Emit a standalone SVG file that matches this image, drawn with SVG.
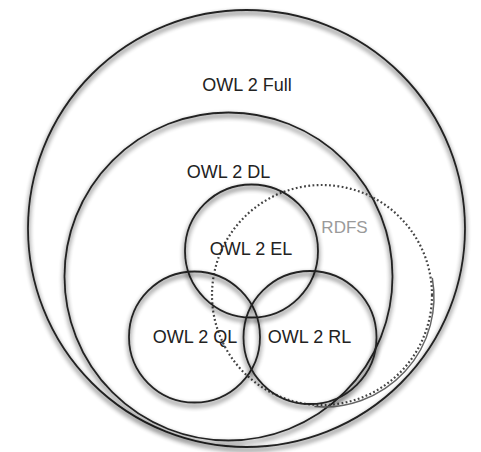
<svg xmlns="http://www.w3.org/2000/svg" width="481" height="452" viewBox="0 0 481 452">
  <defs>
    <filter id="shadow" x="-20%" y="-20%" width="140%" height="140%">
      <feGaussianBlur in="SourceAlpha" stdDeviation="2.4" result="b"/>
      <feOffset in="b" dx="0" dy="3" result="o"/>
      <feComponentTransfer in="o" result="s">
        <feFuncA type="linear" slope="0.85"/>
      </feComponentTransfer>
      <feMerge>
        <feMergeNode in="s"/>
        <feMergeNode in="SourceGraphic"/>
      </feMerge>
    </filter>
    <filter id="soft" x="-20%" y="-20%" width="140%" height="140%">
      <feGaussianBlur stdDeviation="0.7"/>
    </filter>
  </defs>
  <style>
    .set { fill: none; stroke: #222; stroke-width: 1.8; filter: url(#shadow); }
    .rdfs { fill: none; stroke: #444; stroke-width: 2.2; stroke-dasharray: 1.8 2.4; }
    .rdfs-sh { fill: none; stroke: #666; stroke-width: 1.5; filter: url(#soft); }
    .lbl { font-family: "Liberation Sans", Arial, Helvetica, sans-serif; font-size: 18px; fill: #222; text-anchor: middle; }
    .lbl-g { font-family: "Liberation Sans", Arial, Helvetica, sans-serif; font-size: 17px; fill: #9a9a9a; text-anchor: middle; }
  </style>
  <rect width="481" height="452" fill="#ffffff"/>

  <g id="owl2-full">
    <circle class="set" cx="246.5" cy="228.5" r="218.5"/>
    <text class="lbl" x="247" y="91">OWL 2 Full</text>
  </g>

  <g id="owl2-dl">
    <circle class="set" cx="228.5" cy="276.5" r="164"/>
    <text class="lbl" x="228.5" y="178">OWL 2 DL</text>
  </g>

  <g id="rdfs">
    <path class="rdfs-sh" d="M 432.3 277.9 A 110 110 0 0 1 314.4 406.6"/>
    <circle class="rdfs" cx="322" cy="295" r="110"/>
    <text class="lbl-g" x="344.5" y="233">RDFS</text>
  </g>

  <g id="owl2-el">
    <circle class="set" cx="251.5" cy="251" r="66.5"/>
    <text class="lbl" x="251" y="255">OWL 2 EL</text>
  </g>

  <g id="owl2-ql">
    <circle class="set" cx="194.5" cy="337" r="65.5"/>
    <text class="lbl" x="195" y="343">OWL 2 QL</text>
  </g>

  <g id="owl2-rl">
    <circle class="set" cx="310" cy="337.5" r="66.5"/>
    <text class="lbl" x="309.5" y="343">OWL 2 RL</text>
  </g>
</svg>
